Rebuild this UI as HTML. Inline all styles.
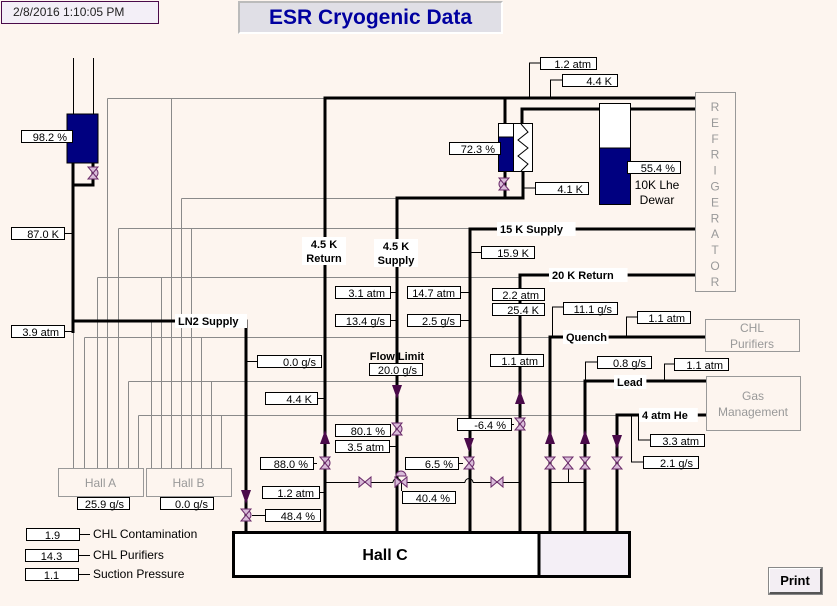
<!DOCTYPE html>
<html><head><meta charset="utf-8">
<style>
html,body{margin:0;padding:0;background:#fdf5ef;}
body{width:837px;height:606px;overflow:hidden;position:relative;font-family:"Liberation Sans",sans-serif;}
svg{position:absolute;left:0;top:0;}
.v{font-family:"Liberation Sans",sans-serif;font-size:11px;fill:#000;}
.lb{font-family:"Liberation Sans",sans-serif;font-size:11px;font-weight:bold;fill:#000;}
.gt{font-family:"Liberation Sans",sans-serif;font-size:12px;fill:#999;}
</style></head>
<body>
<svg id="s" width="837" height="606" viewBox="0 0 837 606" xmlns="http://www.w3.org/2000/svg">
<g id="gray" stroke="#8a8a8a" stroke-width="1" fill="none">
<path d="M107.5 98.5H325M107.5 98.5V468M171.5 98.5V468"/>
<path d="M181.5 198.5H397M181.5 198.5V468"/>
<path d="M118.5 228.5H470M118.5 228.5V468M191.5 228.5V468"/>
<path d="M97.5 277.5H520M97.5 277.5V468M161.5 277.5V468"/>
<path d="M84.5 337.5H550M84.5 337.5V468M201.5 337.5V468"/>
<path d="M128.5 381.5H585M128.5 381.5V468M211.5 381.5V468"/>
<path d="M138.5 415.5H617M138.5 415.5V468M221.5 415.5V468"/>
<path d="M73.5 333V468M151.5 321V468"/>
</g>
<g id="pipes" stroke="#000" stroke-width="3" fill="none">
<path d="M73 163V333M93 163V185H73"/>
<path d="M73 321H246V532"/>
<path d="M325 532V98H695"/>
<path d="M397 532V198H523V172M505 172V198M505 98V123"/>
<path d="M522 123V109H599M630 109H695"/>
<path d="M470 532V229H695"/>
<path d="M520 532V275H695"/>
<path d="M550 532V337H705"/>
<path d="M585 532V381H706"/>
<path d="M617 532V415H706"/>
</g>
<g stroke="#000" stroke-width="1" fill="none">
<path d="M73.5 58V114M93.5 58V114"/>
<path d="M529.5 98V63H540M550.5 98V80H562M523 188H535"/>
<path d="M325 482.5H393M401 482.5H465M473 482.5H520"/>
<path d="M393 482.5a4 4 0 0 1 8 0M465 482.5a4 4 0 0 1 8 0"/>
<path d="M401.5 482V491"/>
<path d="M550 482.5H585M568.5 482V463"/>
<path d="M552.5 337V307H563M626.5 337V317H637M597 362H585.5V381M674 364H664.5V381M638.5 415V440H650M631.5 415V462H643"/>
</g>
<g id="labs"></g>
<g id="dyn"></g>
</svg>
<script>
var S=document.getElementById('dyn');
var NS='http://www.w3.org/2000/svg';
function mk(t,a,p){var e=document.createElementNS(NS,t);for(var k in a)e.setAttribute(k,a[k]);(p||S).appendChild(e);return e;}
// readouts: [x,y,w,text,name,tickTo]
var readings=[
[21,130,51,'98.2  %','lh2-tank-level',null],
[11,227,53,'87.0  K','ln2-temp',73],
[11,325,53,'3.9 atm','ln2-pressure',73],
[257,355,64,'0.0  g/s','ln2-flow',246],
[265,392,52,'4.4  K','return-temp',325],
[260,457,53,'88.0  %','return-valve',317],
[262,486,57,'1.2 atm','return-pressure',325],
[265,509,55,'48.4  %','ln2-valve',252],
[335,286,55,'3.1 atm','supply-pressure',397],
[335,314,55,'13.4  g/s','supply-flow',397],
[369,363,53,'20.0  g/s','flow-limit',null],
[335,424,55,'80.1  %','supply-valve',391],
[335,440,54,'3.5 atm','supply-pressure-2',397],
[407,286,53,'14.7 atm','15k-pressure',470],
[407,314,53,'2.5  g/s','15k-flow',470],
[481,246,53,'15.9  K','15k-temp',470],
[405,457,53,'6.5  %','15k-valve',463],
[402,491,53,'40.4  %','bypass-valve',null],
[457,418,54,'-6.4  %','20k-valve',514],
[492,288,52,'2.2 atm','20k-pressure',null],
[492,303,52,'25.4  K','20k-temp',null],
[490,354,53,'1.1 atm','20k-pressure-2',520],
[540,57,56,'1.2  atm','ref-pressure',null],
[562,74,55,'4.4  K','ref-temp',null],
[449,142,51,'72.3 %','sub-tank-level',null],
[535,182,53,'4.1  K','exchanger-temp',null],
[627,161,53,'55.4  %','dewar-level',null],
[563,302,54,'11.1  g/s','quench-flow',null],
[637,311,53,'1.1 atm','quench-pressure',null],
[597,356,54,'0.8  g/s','lead-flow',null],
[674,358,54,'1.1 atm','lead-pressure',null],
[650,434,54,'3.3 atm','he-pressure',null],
[643,456,55,'2.1  g/s','he-flow',null],
[77,497,52,'25.9  g/s','hall-a-flow',null],
[160,497,53,'0.0  g/s','hall-b-flow',null],
[26,528,53,'1.9','chl-contamination-value',90],
[25,549,53,'14.3','chl-purifiers-value',90],
[25,568,53,'1.1','suction-pressure-value',90]
];
var t=mk('rect',{x:67,y:114,width:31,height:49,fill:'#000080',stroke:'#000'});


var g2=mk('g',{});


mk('rect',{x:498.5,y:123.5,width:15,height:48,fill:'#fff',stroke:'#000'},g2);
mk('rect',{x:498.5,y:137,width:15,height:34.5,fill:'#000080',stroke:'#000'},g2);
mk('rect',{x:513.5,y:123.5,width:19,height:48,fill:'#fff',stroke:'#000'},g2);
mk('path',{d:'M521 124L528 132L518 140L528 148L518 156L528 164L521 171',fill:'none',stroke:'#000'},g2);
var g3=mk('g',{});


mk('rect',{x:599.5,y:103.5,width:31,height:101,fill:'#fff',stroke:'#000'},g3);
mk('rect',{x:599.5,y:148,width:31,height:56.5,fill:'#000080',stroke:'#000'},g3);
var tx=mk('text',{x:657,y:189,'text-anchor':'middle',class:'v'},g3);tx.textContent='10K Lhe';tx.setAttribute('style','font-size:12px');
tx=mk('text',{x:657,y:204,'text-anchor':'middle',class:'v'},g3);tx.textContent='Dewar';tx.setAttribute('style','font-size:12px');
var ref=mk('g',{});


mk('rect',{x:695.5,y:92.5,width:40,height:199,fill:'#fdf5ef',stroke:'#999'},ref);
var L='REFRIGERATOR';
for(var i=0;i<L.length;i++){var e=mk('text',{x:715,y:111+i*15.9,'text-anchor':'middle',class:'gt'},ref);e.textContent=L[i];}
function gbox(x,y,w,h,lines,name){var g=mk('g',{});


mk('rect',{x:x+.5,y:y+.5,width:w,height:h,fill:'#fdf5ef',stroke:'#999'},g);
for(var i=0;i<lines.length;i++){var e=mk('text',{x:x+w/2,y:y+h/2+5+(i-(lines.length-1)/2)*16,'text-anchor':'middle',class:'gt'},g);e.textContent=lines[i];}}
gbox(705,319,94,32,['CHL','Purifiers'],'chl-purifiers-box');
gbox(706,376,94,54,['Gas','Management'],'gas-management-box');
gbox(58,468,85,28,['Hall A'],'hall-a-box');
gbox(146,468,85,28,['Hall B'],'hall-b-box');
var hc=mk('g',{});


mk('rect',{x:233.5,y:532.5,width:396,height:44,fill:'#fff',stroke:'#000','stroke-width':3},hc);
mk('rect',{x:539,y:534,width:89,height:41,fill:'#f4eff6'},hc);
mk('path',{d:'M539 532V577',stroke:'#000','stroke-width':3},hc);
tx=mk('text',{x:385,y:560,'text-anchor':'middle'},hc);tx.setAttribute('style','font-family:Liberation Sans,sans-serif;font-size:16px;font-weight:bold');tx.textContent='Hall C';
var pl=[[178,315,'LN2 Supply'],[500,223,'15 K Supply'],[552,269,'20 K Return'],[566,331,'Quench'],[617,376,'Lead'],[642,409,'4 atm He']];
pl.forEach(function(p){var w=p[2].length*6.6+6;mk('rect',{x:p[0]-3,y:p[1]-1,width:w,height:14,fill:'#fff'});
var e=mk('text',{x:p[0],y:p[1]+10,class:'lb'});e.textContent=p[2];

});
[[324,238,'4.5 K','Return'],[396,240,'4.5 K','Supply']].forEach(function(p){mk('rect',{x:p[1]==238?302:374,y:p[1]-1,width:44,height:28,fill:'#fff'});
var e=mk('text',{x:p[0],y:p[1]+10,'text-anchor':'middle',class:'lb'});e.textContent=p[2];


e=mk('text',{x:p[0],y:p[1]+24,'text-anchor':'middle',class:'lb'});e.textContent=p[3];

});
tx=mk('text',{x:397,y:360,'text-anchor':'middle',class:'lb'});tx.textContent='Flow Limit';


readings.forEach(function(r){var g=mk('g',{});


if(r[5]!==null){var x0=r[5]>r[0]?r[0]+r[2]:r[0];mk('path',{d:'M'+x0+' '+(r[1]+6.5)+'H'+r[5],stroke:'#000',fill:'none'},g);}
mk('rect',{x:r[0]+.5,y:r[1]+.5,width:r[2],height:12,fill:'#fff',stroke:'#000'},g);
var e=mk('text',{x:r[0]+r[2]-5,y:r[1]+11,'text-anchor':'end',class:'v'},g);e.textContent=r[3];
if(r[3].indexOf('%')<0&&r[3].indexOf('atm')<0&&r[3].indexOf('K')<0&&r[3].indexOf('g/s')<0){e.setAttribute('x',r[0]+r[2]/2);e.setAttribute('text-anchor','middle');}
});
[[93,538,'CHL Contamination'],[93,559,'CHL Purifiers'],[93,578,'Suction Pressure']].forEach(function(p){var e=mk('text',{x:p[0],y:p[1]});e.setAttribute('style','font-family:Liberation Sans,sans-serif;font-size:12px');e.textContent=p[2];

});
var valves=[[93,173,1],[504,184,2],[246,515,1],[325,463,1],[397,429,1],[469,463,1],[520,424,1],[550,463,0],[568,463,0],[585,463,0],[617,463,0]];
valves.forEach(function(v){var g=mk('g',{});


var x=v[0],y=v[1];
if(v[2]==1)mk('path',{d:'M'+x+' '+(y-5)+'a5 5 0 0 1 0 10',fill:'#d9bcd9',stroke:'#6a2a6a'},g);
if(v[2]==2)mk('path',{d:'M'+x+' '+(y-5)+'a5 5 0 0 0 0 10',fill:'#d9bcd9',stroke:'#6a2a6a'},g);
mk('path',{d:'M'+(x-5)+' '+(y-6)+'H'+(x+5)+'L'+(x-5)+' '+(y+6)+'H'+(x+5)+'Z',fill:'#d9bcd9',stroke:'#6a2a6a'},g);});
[[365,482],[401,482],[497,482]].forEach(function(v){var g=mk('g',{});


var x=v[0],y=v[1];
mk('path',{d:'M'+(x-6)+' '+(y-5)+'V'+(y+5)+'L'+(x+6)+' '+(y-5)+'V'+(y+5)+'Z',fill:'#d9bcd9',stroke:'#6a2a6a'},g);
if(x==401)mk('path',{d:'M396 476a5 5 0 0 1 10 0Z',fill:'#d9bcd9',stroke:'#6a2a6a'},g);});
var arrows=[[246,497,1],[325,437,-1],[397,392,1],[469,445,1],[520,397,-1],[550,437,-1],[585,437,-1],[617,442,1]];
arrows.forEach(function(a){var x=a[0],y=a[1],d=a[2];
var p=mk('path',{d:'M'+(x-5)+' '+(y-7*d)+'H'+(x+5)+'L'+x+' '+(y+7*d)+'Z',fill:'#4a0a4a'});

});
</script>
<div style="position:absolute;left:1px;top:1px;width:156px;height:21px;border:1px solid #4a0a4a;background:#f3eff7;font-size:12px;color:#222;line-height:21px;text-indent:11px;">2/8/2016 1:10:05 PM</div>
<div style="position:absolute;left:238px;top:1px;width:261px;height:29px;border-top:2px solid #bbb;border-left:2px solid #bbb;border-right:2px solid #fff;border-bottom:2px solid #fff;background:#e0dfe6;color:#0000a0;font-weight:bold;font-size:21px;line-height:29px;text-align:center;">ESR Cryogenic Data</div>
<div style="position:absolute;left:769px;top:568px;width:50px;height:23px;border-top:1px solid #fff;border-left:1px solid #fff;border-right:2px solid #555;border-bottom:2px solid #555;outline:1px solid #888;background:#f3eef3;font-weight:bold;font-size:13px;line-height:23px;text-align:center;">Print</div>
</body></html>
